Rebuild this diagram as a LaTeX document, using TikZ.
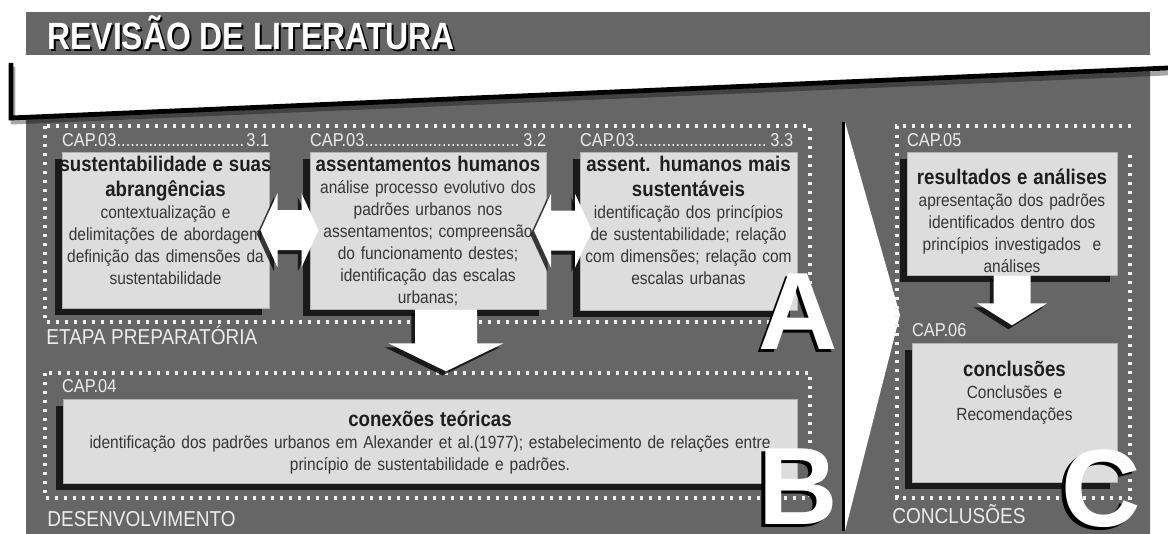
\documentclass[tikz,border=0pt]{standalone}
\usepackage{fontspec}
\setmainfont{Liberation Sans}[FakeStretch=0.88]
\newfontfamily\bigfont{Liberation Sans}
\newfontfamily\headfamily{Liberation Sans}[FakeStretch=0.84]
\usetikzlibrary{calc,shadows}

\definecolor{panel}{HTML}{666666}
\definecolor{boxfill}{HTML}{DDDDDD}
\definecolor{labelgray}{HTML}{ECECEC}
\definecolor{headtext}{HTML}{1E1E1E}
\definecolor{bodytext}{HTML}{353535}

\newcommand{\titlefont}{\headfamily\bfseries\fontsize{19}{21}\selectfont}
\newcommand{\hdfont}{\bfseries\fontsize{10.6}{12.5}\selectfont\color{headtext}}
\newcommand{\bdfont}{\fontsize{8.8}{11}\selectfont}
\newcommand{\capline}[3]{\hbox to #1{#2\leaders\hbox{.}\hfill #3}}

\begin{document}
\begin{tikzpicture}[x=0.5pt, y=-0.5pt,
    chapbox/.style={fill=boxfill, draw=black!30, line width=0.3pt, inner sep=0pt,
        drop shadow={shadow xshift=-3.5pt, shadow yshift=-3.5pt, fill=black!90, opacity=1}},
    boxtext/.style={anchor=north, inner sep=0pt, align=center, text width=#1, text=bodytext, font=\bdfont},
    caplabel/.style={anchor=base west, inner sep=0pt, text=labelgray, font=\fontsize{9.3}{10}\selectfont},
    stagelabel/.style={anchor=base west, inner sep=0pt, text=labelgray, font=\fontsize{10.8}{12}\selectfont},
    stageframe/.style={draw=white!94!black, line width=1.6pt, dash pattern=on 1.6pt off 2.9pt},
    blockarrow/.style={fill=white, drop shadow={shadow xshift=-1.8pt, shadow yshift=-2pt, fill=black, opacity=.75}},
    bigletter/.style={inner sep=0pt, anchor=base, font=\bigfont\bfseries\fontsize{55}{55}\selectfont}
    ]

    \useasboundingbox (0,0) rectangle (1168,534);
    \fill[white] (0,0) rectangle (1168,534);

    % faixa do titulo
    \fill[panel] (26,12) rectangle (1150,55);
    \node[anchor=base west, inner sep=0pt, text=black, font=\titlefont] (title-sh) at (49,52) {REVISÃO DE LITERATURA};
    \node[anchor=base west, inner sep=0pt, text=white, font=\titlefont] (title) at (47,50) {REVISÃO DE LITERATURA};

    % painel
    \fill[panel] (26,117.4) -- (1150,68.8) -- (1150,534) -- (26,534) -- cycle;
    \draw[black, opacity=.35, line width=2.4pt] (13,67) -- (13,122) -- (1168,73);
    \draw[black, line width=2.4pt] (11,63) -- (11,118) -- (1168,68);

    \draw[black, line width=1.5pt] (843,122) -- (843,531);
    \fill[white] (845,122) -- (900,315) -- (845,531) -- cycle;

    \draw[stageframe] (45,126) rectangle (810,322);
    \draw[stageframe] (45,373) rectangle (810,498);
    \draw[stageframe] (1131,126) -- (897,126) -- (897,498) -- (1130,498) -- (1130,154);

    \node[chapbox, minimum width=103.5pt, minimum height=78pt] (s31) at (165.5,230) {};
    \node[chapbox, minimum width=118pt, minimum height=78.5pt] (s32) at (428,230.5) {};
    \node[chapbox, minimum width=108.5pt, minimum height=79pt] (s33) at (688.5,231) {};
    \node[chapbox, minimum width=367pt, minimum height=42pt] (s4) at (430,441) {};
    \node[chapbox, minimum width=105pt, minimum height=61.5pt] (s5) at (1012,213.5) {};
    \node[chapbox, minimum width=102.5pt, minimum height=69.5pt] (s6) at (1014.5,412.5) {};

    \node[caplabel] (l31) at ($(s31.north west)+(0,-5)$) {\capline{103.5pt}{CAP.03}{3.1}};
    \node[caplabel] (l32) at ($(s32.north west)+(0,-5)$) {\capline{118pt}{CAP.03}{3.2}};
    \node[caplabel] (l33) at ($(s33.north west)+(0,-5)$) {\capline{106.5pt}{CAP.03}{3.3}};
    \node[caplabel] (l4) at ($(s4.north west)+(-1,-6)$) {CAP.04};
    \node[caplabel] (l5) at ($(s5.north west)+(0,-5)$) {CAP.05};
    \node[caplabel] (l6) at ($(s6.north west)+(0,-6)$) {CAP.06};

    \node[boxtext=130pt] (t31) at ($(s31.north)+(0,4)$) {{\hdfont sustentabilidade e suas\\abrangências\par}contextualização e\\delimitações de abordagem\\definição das dimensões da\\sustentabilidade};
    \node[boxtext=140pt] (t32) at ($(s32.north)+(0,4)$) {{\hdfont assentamentos humanos\par}análise processo evolutivo dos\\padrões urbanos nos\\assentamentos; compreensão\\do funcionamento destes;\\identificação das escalas\\urbanas;};
    \node[boxtext=130pt] (t33) at ($(s33.north)+(0,4)$) {{\hdfont assent. humanos mais\\sustentáveis\par}identificação dos princípios\\de sustentabilidade; relação\\com dimensões; relação com\\escalas urbanas};
    \node[boxtext=400pt] (t4) at ($(s4.north)+(0,11.5)$) {{\hdfont conexões teóricas\par}identificação dos padrões urbanos em Alexander et al.(1977); estabelecimento de relações entre\\princípio de sustentabilidade e padrões.};
    \node[boxtext=130pt] (t5) at ($(s5.north)+(0,16.5)$) {{\hdfont resultados e análises\par}apresentação dos padrões\\identificados dentro dos\\princípios investigados~ e\\análises};
    \node[boxtext=130pt] (t6) at ($(s6.north)+(0,18.5)$) {{\hdfont conclusões\par}Conclusões e\\Recomendações};

    \node[stagelabel] (etapa) at (46,345) {ETAPA PREPARATÓRIA};
    \node[stagelabel] (desenv) at (47,526) {DESENVOLVIMENTO};
    \node[stagelabel] (concl) at (892,523) {CONCLUSÕES};

    % setas
    \coordinate (m12) at ($(s31.east)!.5!(s32.west)$);
    \coordinate (m23) at ($(s32.east)!.5!(s33.west)$);
    \foreach \m in {m12,m23}
        \fill[blockarrow] (\m) ++(-29,0) -- ++(17,-37) -- ++(0,17) -- ++(24,0) -- ++(0,-17) -- ++(17,37)
            -- ++(-17,37) -- ++(0,-17) -- ++(-24,0) -- ++(0,17) -- cycle;
    \coordinate (d1) at ($(s32.south)+(18,0)$);
    \fill[blockarrow] (d1) ++(-31,0) -- ++(62,0) -- ++(0,34) -- ++(26.5,0) -- ++(-57.5,28) -- ++(-57.5,-28) -- ++(26.5,0) -- cycle;
    \coordinate (d2) at (s5.south);
    \fill[blockarrow] (d2) ++(-18.5,0) -- ++(37,0) -- ++(0,28) -- ++(16.5,0) -- ++(-35,22) -- ++(-35,-22) -- ++(16.5,0) -- cycle;

    \node[bigletter, text=black] (A-sh) at (795,353) {A};
    \node[bigletter, text=white] (A) at (798.5,350) {A};
    \node[bigletter, text=black] (B-sh) at (794.5,527) {B};
    \node[bigletter, text=white] (B) at (798,524) {B};
    \node[bigletter, text=black] (C-sh) at (1097.5,529) {C};
    \node[bigletter, text=white] (C) at (1101,526) {C};
\end{tikzpicture}
\end{document}
